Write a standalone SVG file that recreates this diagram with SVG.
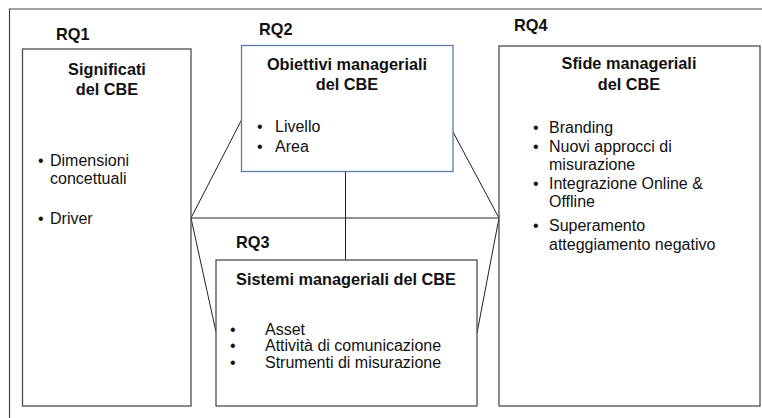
<svg xmlns="http://www.w3.org/2000/svg" width="762" height="418" viewBox="0 0 762 418">
<style>
.box{fill:#fff;stroke:#4d4d4d;stroke-width:1.3}
.box2{fill:#fff;stroke:#5b7bab;stroke-width:1.3}
.frame{fill:none;stroke:#444;stroke-width:1.2}
.conn{fill:none;stroke:#222;stroke-width:1}
text{font-family:"Liberation Sans",Arial,sans-serif;font-size:16px;fill:#111}
.b{font-weight:bold;font-size:16.3px}
.c{text-anchor:middle}
</style>
<rect width="762" height="418" fill="#fff"/>
<path class="frame" d="M9.5 418 V9 H762"/>
<g id="connectors">
<line class="conn" x1="191" y1="218" x2="241.5" y2="120"/>
<line class="conn" x1="191" y1="218" x2="499" y2="218"/>
<line class="conn" x1="191" y1="218" x2="216" y2="332"/>
<line class="conn" x1="345.5" y1="172" x2="345.5" y2="260"/>
<line class="conn" x1="453" y1="132" x2="499" y2="218"/>
<line class="conn" x1="499" y1="218" x2="477" y2="333"/>
</g>
<g id="rq1">
<text class="b" x="56" y="40">RQ1</text>
<rect class="box" x="22.5" y="49" width="168.5" height="357"/>
<text class="b c" x="107" y="75">Significati</text>
<text class="b c" x="107" y="95">del CBE</text>
<text x="38" y="165.5">•</text><text x="50" y="165.5">Dimensioni</text>
<text x="50" y="183.5">concettuali</text>
<text x="38" y="224">•</text><text x="50" y="224">Driver</text>
</g>
<g id="rq2">
<text class="b" x="259" y="35">RQ2</text>
<rect class="box2" x="241.5" y="45.5" width="211.5" height="126"/>
<text class="b c" x="347" y="70">Obiettivi manageriali</text>
<text class="b c" x="347" y="90">del CBE</text>
<text x="257" y="132">•</text><text x="275" y="132">Livello</text>
<text x="257" y="151.5">•</text><text x="275" y="151.5">Area</text>
</g>
<g id="rq3">
<text class="b" x="236" y="248">RQ3</text>
<rect class="box" x="216" y="260" width="261" height="146"/>
<text class="b c" x="346" y="285">Sistemi manageriali del CBE</text>
<text x="230" y="334.5">•</text><text x="265" y="334.5">Asset</text>
<text x="230" y="351">•</text><text x="265" y="351">Attività di comunicazione</text>
<text x="230" y="367.5">•</text><text x="265" y="367.5">Strumenti di misurazione</text>
</g>
<g id="rq4">
<text class="b" x="514" y="31">RQ4</text>
<rect class="box" x="499" y="46" width="261" height="360"/>
<text class="b c" x="629" y="69">Sfide manageriali</text>
<text class="b c" x="629" y="90">del CBE</text>
<text x="533" y="133">•</text><text x="549" y="133">Branding</text>
<text x="533" y="152">•</text><text x="549" y="152">Nuovi approcci di</text>
<text x="549" y="170">misurazione</text>
<text x="533" y="188.5">•</text><text x="549" y="188.5">Integrazione Online &amp;</text>
<text x="549" y="207">Offline</text>
<text x="533" y="231">•</text><text x="549" y="231">Superamento</text>
<text x="549" y="249.5">atteggiamento negativo</text>
</g>
</svg>
